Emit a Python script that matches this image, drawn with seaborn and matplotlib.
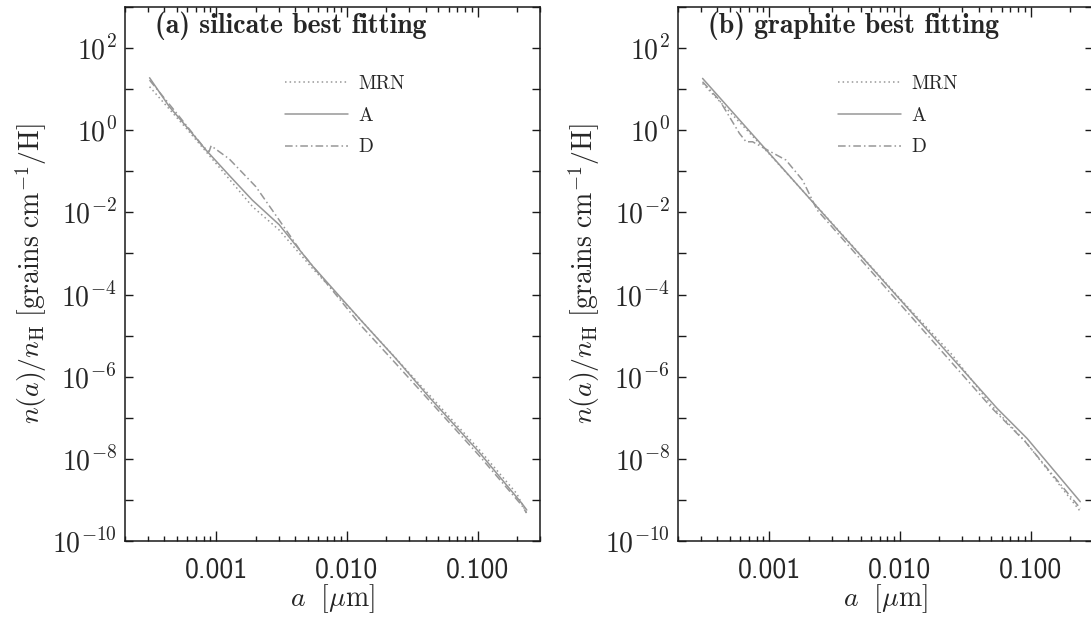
import numpy as np
import pandas as pd
import matplotlib
matplotlib.use('Agg')
import matplotlib.pyplot as plt
import matplotlib.ticker as mt
import seaborn as sns

# -- values, as log10(a [um]) and log10(n(a)/nH)
# panel (a): silicate
la_sil_mrn = [-3.511, -3.231, -2.723, -2.519, -2.265, -1.883, -1.374, -0.992, -0.700, -0.624]
ln_sil_mrn = [1.06, 0.05, -1.86, -2.43, -3.36, -4.66, -6.43, -7.76, -8.85, -9.33]

la_sil_A = [-3.511, -3.359, -3.206, -3.079, -2.901, -2.725, -2.519, -2.265, -1.883,
            -1.628, -1.374, -0.992, -0.662, -0.624]
ln_sil_A = [1.277, 0.571, 0.004, -0.483, -1.10, -1.70, -2.30, -3.30, -4.663,
            -5.553, -6.488, -7.827, -9.083, -9.246]

la_sil_D = [-3.511, -3.300, -3.100, -3.055, -3.040, -2.901, -2.697, -2.519,
            -2.344, -1.885, -1.628, -0.992, -0.664, -0.626]
ln_sil_D = [1.22, 0.40, -0.40, -0.52, -0.378, -0.70, -1.376, -2.187,
            -2.990, -4.784, -5.675, -7.908, -9.125, -9.319]

# panel (b): graphite
la_gra_mrn = [-3.511, -3.200, -3.000, -2.600, -2.000, -1.600, -1.300, -1.040, -0.620]
ln_gra_mrn = [1.14, 0.10, -0.58, -1.98, -4.10, -5.47, -6.70, -7.58, -9.28]

la_gra_A = [-3.511, -3.200, -2.900, -2.631, -2.000, -1.257, -1.028, -0.620]
ln_gra_A = [1.262, 0.150, -0.920, -1.880, -4.12, -6.771, -7.501, -9.044]

la_gra_D = [-3.511, -3.382, -3.229, -3.178, -3.128, -3.000, -2.873, -2.746, -2.634,
            -2.000, -1.295, -1.041, -0.620]
ln_gra_D = [1.180, 0.734, -0.076, -0.281, -0.281, -0.507, -0.726, -1.213, -1.943,
            -4.229, -6.771, -7.584, -9.205]

titles = ['(a) silicate best fitting', '(b) graphite best fitting']
names = ['MRN', 'A', 'D']
xticks = [0.001, 0.010, 0.100]
xticklabels = ['0.001', '0.010', '0.100']

sns.set_theme(style='ticks')
plt.rcParams['font.family'] = ['cmr10', 'DejaVu Serif']
plt.rcParams['mathtext.fontset'] = 'cm'
plt.rcParams['axes.formatter.use_mathtext'] = True
plt.rcParams['axes.unicode_minus'] = False

grey = '#979797'
styles = [(0, (1, 2)), '-', (0, (5, 2, 1, 2))]


def ylab(v, pos):
    e = int(round(np.log10(v)))
    if e % 2:
        return ''
    return r'$\mathsf{10^{%d}}$' % e


def panel(ax, curves, title):
    for (la, ln), name, ls in zip(curves, names, styles):
        df = pd.DataFrame({'a': 10 ** np.array(la), 'n': 10 ** np.array(ln)})
        sns.lineplot(data=df, x='a', y='n', ax=ax, sort=False, estimator=None,
                     color=grey, linestyle=ls, lw=1.1, label=name)
    ax.set_xscale('log')
    ax.set_yscale('log')
    ax.set_xlim(2e-4, 0.3)
    ax.set_ylim(1e-10, 1e3)

    ax.xaxis.set_major_locator(mt.FixedLocator(xticks))
    ax.xaxis.set_major_formatter(mt.FixedFormatter(xticklabels))
    ax.xaxis.set_minor_locator(mt.LogLocator(base=10, subs=np.arange(2, 10), numticks=20))
    ax.xaxis.set_minor_formatter(mt.NullFormatter())
    ax.yaxis.set_major_locator(mt.FixedLocator([10.0 ** k for k in range(-10, 4)]))
    ax.yaxis.set_major_formatter(mt.FuncFormatter(ylab))
    ax.yaxis.set_minor_locator(mt.NullLocator())

    ax.tick_params(which='both', direction='in', top=True, right=True, color='k')
    ax.tick_params(axis='x', which='major', length=7.2, width=1, pad=12, labelsize=20)
    ax.tick_params(axis='x', which='minor', length=3.6, width=1)
    ax.tick_params(axis='y', which='major', length=5.8, width=1, pad=6, labelsize=20)
    for lbl in ax.get_xticklabels():
        lbl.set_family('cmss10')
    for s in ax.spines.values():
        s.set_color('k')
        s.set_linewidth(1.1)

    ax.set_xlabel(r'$a\ \ [\mu{\rm m}]$', fontsize=20, labelpad=0)
    ax.set_ylabel(r'$n(a)/n_{\rm H}\ [{\rm grains\ cm^{-1}/H}]$', fontsize=20, labelpad=2)
    ax.text(0.072, 0.951, title, transform=ax.transAxes, fontsize=20,
            family='cmb10', va='baseline', ha='left')
    ax.legend(loc='upper left', bbox_to_anchor=(0.386, 0.872), frameon=False,
              handlelength=3.25, handletextpad=0.5, labelspacing=0.7,
              borderpad=0, borderaxespad=0, fontsize=14)


fig = plt.figure(figsize=(10.91, 6.22), dpi=100)
ax1 = fig.add_axes([125 / 1091, 81 / 622, 415 / 1091, 534 / 622])
ax2 = fig.add_axes([678 / 1091, 81 / 622, 415 / 1091, 534 / 622])

panel(ax1, [(la_sil_mrn, ln_sil_mrn), (la_sil_A, ln_sil_A), (la_sil_D, ln_sil_D)], titles[0])
panel(ax2, [(la_gra_mrn, ln_gra_mrn), (la_gra_A, ln_gra_A), (la_gra_D, ln_gra_D)], titles[1])

fig.savefig('out.png', dpi=100, facecolor='white')
